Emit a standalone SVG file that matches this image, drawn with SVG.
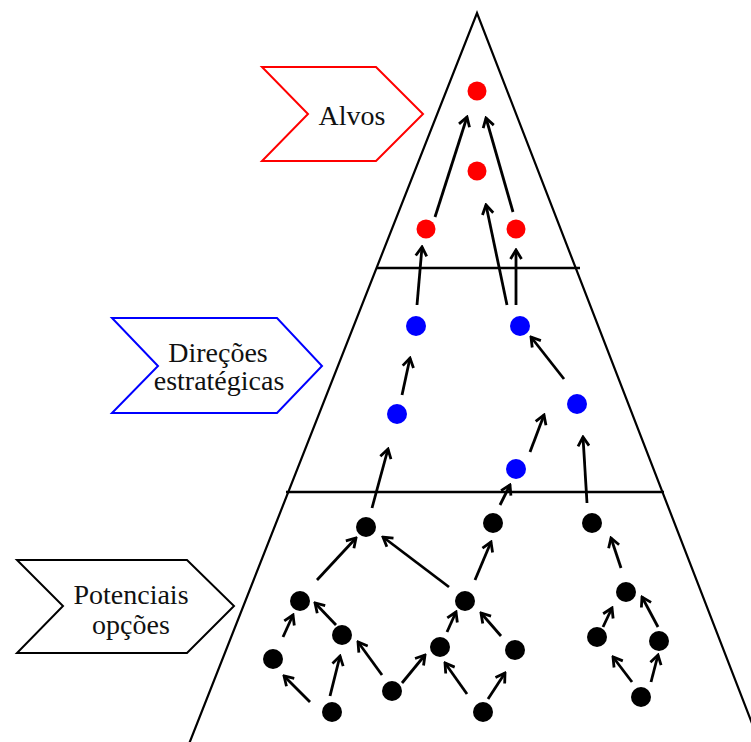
<svg xmlns="http://www.w3.org/2000/svg" width="751" height="742" viewBox="0 0 751 742">
<style>
.tri{fill:none;stroke:#000;stroke-width:2.2}
.div{stroke:#000;stroke-width:2.5}
.lbl{font-family:"Liberation Serif",serif;font-size:28px;fill:#111;text-anchor:middle}
.r{fill:#ff0000}.b{fill:#0000ff}.k{fill:#000}
#connectors line{stroke:#000;stroke-width:2.8;marker-end:url(#ah)}
</style>
<defs>
<marker id="ah" viewBox="0 0 14 14" refX="12" refY="7" markerWidth="14" markerHeight="14" markerUnits="userSpaceOnUse" orient="auto">
<path d="M3,1.5 L12,7 L3,12.5" fill="none" stroke="#000" stroke-width="2.8"/>
</marker>
</defs>
<rect width="751" height="742" fill="#fff"/>
<g id="pyramid">
<path class="tri" d="M189,744 L477,13 L760,744"/>
<line class="div" x1="377" y1="268" x2="580" y2="268"/>
<line class="div" x1="286" y1="492" x2="664" y2="492"/>
</g>
<g id="label-alvos">
<polygon points="262,67 376,67 423,114 376,161 262,161 308,114" fill="#fff" stroke="#ff0000" stroke-width="2"/>
<text class="lbl" x="352" y="125">Alvos</text>
</g>
<g id="label-direcoes">
<polygon points="112,318 277,318 322,366 277,413 112,413 158,366" fill="#fff" stroke="#0000ff" stroke-width="2"/>
<text class="lbl" x="218" y="362">Direções</text>
<text class="lbl" x="219" y="390">estratégicas</text>
</g>
<g id="label-potenciais">
<polygon points="17,560 187,560 234,606 187,653 17,653 63,606" fill="#fff" stroke="#000" stroke-width="2"/>
<text class="lbl" x="131" y="604">Potenciais</text>
<text class="lbl" x="131" y="634">opções</text>
</g>
<g id="connectors">
<line x1="435" y1="217" x2="467" y2="117"/>
<line x1="513" y1="212" x2="486" y2="118"/>
<line x1="507" y1="305" x2="486" y2="205"/>
<line x1="516" y1="305" x2="516" y2="250"/>
<line x1="417" y1="305" x2="422" y2="247"/>
<line x1="402" y1="395" x2="410" y2="358"/>
<line x1="564" y1="379" x2="531" y2="337"/>
<line x1="530" y1="452" x2="544" y2="415"/>
<line x1="372" y1="508" x2="388" y2="449"/>
<line x1="500" y1="505" x2="510" y2="485"/>
<line x1="587" y1="503" x2="583" y2="437"/>
<line x1="317" y1="580" x2="356" y2="538"/>
<line x1="449" y1="587" x2="383" y2="537"/>
<line x1="475" y1="580" x2="491" y2="542"/>
<line x1="283" y1="637" x2="293" y2="615"/>
<line x1="336" y1="625" x2="315" y2="603"/>
<line x1="310" y1="702" x2="284" y2="676"/>
<line x1="330" y1="696" x2="340" y2="656"/>
<line x1="382" y1="675" x2="358" y2="642"/>
<line x1="402" y1="683" x2="425" y2="655"/>
<line x1="447" y1="632" x2="456" y2="612"/>
<line x1="501" y1="636" x2="481" y2="613"/>
<line x1="467" y1="694" x2="445" y2="663"/>
<line x1="488" y1="699" x2="505" y2="673"/>
<line x1="621" y1="568" x2="611" y2="538"/>
<line x1="603" y1="627" x2="612" y2="608"/>
<line x1="658" y1="627" x2="642" y2="597"/>
<line x1="632" y1="682" x2="613" y2="657"/>
<line x1="651" y1="682" x2="658" y2="655"/>
</g>
<g id="red-nodes">
<circle id="r1" class="r" cx="477" cy="91" r="9.5"/>
<circle id="r2" class="r" cx="477" cy="171" r="9.5"/>
<circle id="r3" class="r" cx="426" cy="229" r="9.5"/>
<circle id="r4" class="r" cx="516" cy="229" r="9.5"/>
</g>
<g id="blue-nodes">
<circle id="b1" class="b" cx="416" cy="326" r="10"/>
<circle id="b2" class="b" cx="520" cy="326" r="10"/>
<circle id="b3" class="b" cx="397" cy="414" r="10"/>
<circle id="b4" class="b" cx="577" cy="404" r="10"/>
<circle id="b5" class="b" cx="516" cy="469" r="10"/>
</g>
<g id="black-nodes">
<circle id="k1" class="k" cx="366" cy="527" r="10"/>
<circle id="k2" class="k" cx="493" cy="523" r="10"/>
<circle id="k3" class="k" cx="592" cy="523" r="10"/>
<circle id="k4" class="k" cx="300" cy="601" r="10"/>
<circle id="k5" class="k" cx="342" cy="635" r="10"/>
<circle id="k6" class="k" cx="273" cy="659" r="10"/>
<circle id="k7" class="k" cx="332" cy="712" r="10"/>
<circle id="k8" class="k" cx="392" cy="691" r="10"/>
<circle id="k9" class="k" cx="440" cy="647" r="10"/>
<circle id="k10" class="k" cx="465" cy="601" r="10"/>
<circle id="k11" class="k" cx="483" cy="712" r="10"/>
<circle id="k12" class="k" cx="515" cy="650" r="10"/>
<circle id="k13" class="k" cx="626" cy="592" r="10"/>
<circle id="k14" class="k" cx="597" cy="637" r="10"/>
<circle id="k15" class="k" cx="659" cy="641" r="10"/>
<circle id="k16" class="k" cx="641" cy="697" r="10"/>
</g>
</svg>
